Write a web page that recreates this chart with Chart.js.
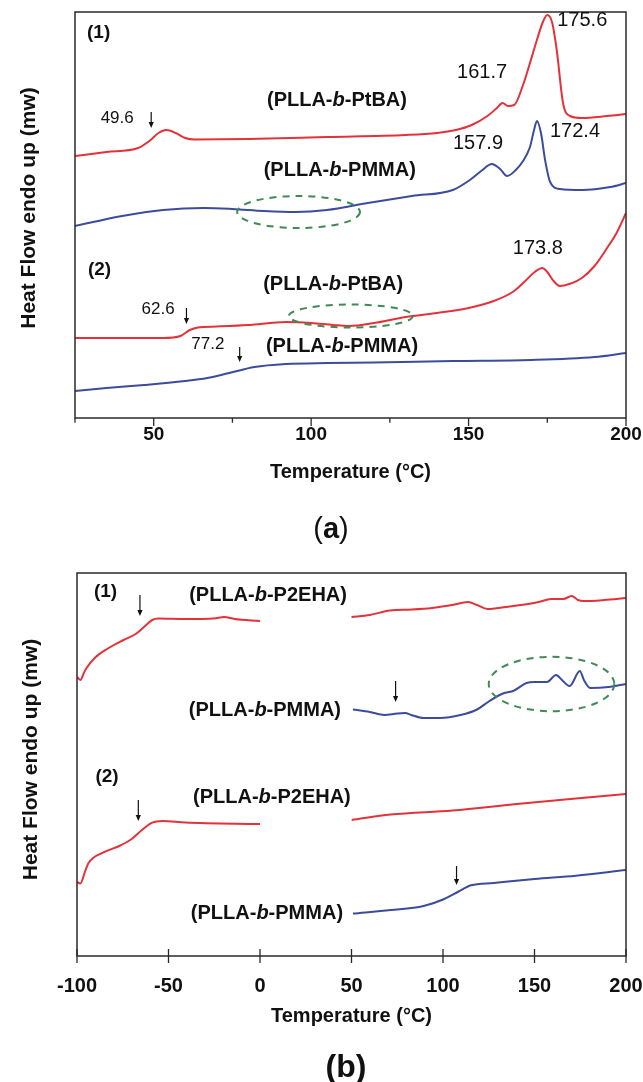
<!DOCTYPE html>
<html>
<head>
<meta charset="utf-8">
<script src="https://cdn.jsdelivr.net/npm/chart.js@4/dist/chart.umd.min.js"></script>
<style>
  body { margin: 0; background: #fff; width: 643px; height: 1082px; position: relative; overflow: hidden; }
  canvas { position: absolute; left: 0; }
  #chartA { top: 0; }
  #chartB { top: 540px; }
  .cap { position: absolute; font-family: "Liberation Sans", Arial, sans-serif; color: #111; transform: translate(-50%, -50%); white-space: nowrap; }
</style>
</head>
<body>
<canvas id="chartA" width="643" height="540"></canvas>
<canvas id="chartB" width="643" height="542"></canvas>
<div class="cap" style="left:331px; top:528px; font-size:29px;">(<b>a</b>)</div>
<div class="cap" style="left:346px; top:1066px; font-size:32px; font-weight:bold;">(b)</div>
<script>
// ---- panel (a) data: temperature (°C) and heat flow (arbitrary, endo up) ----
const tempRedA1 = [25, 35, 45, 49, 51.5, 54, 57, 60, 63, 80, 105, 130, 140, 146, 151, 156, 159, 160.8, 162.5, 164.5, 167.3, 169.5, 171.7, 173.6, 175, 176.5, 178, 180, 182.2, 186, 194, 200];
const heatRedA1 = [262, 266, 270, 278, 285, 288, 285, 280, 278.5, 279, 281, 283, 285, 288, 293, 302, 310, 315, 312, 313, 333, 355, 378, 396, 403, 396, 368, 315, 302, 300, 302, 304];

const tempBlueA1 = [25, 40, 53, 66, 75, 85, 95, 105, 118, 132, 145, 150.4, 154, 157.4, 160, 162.2, 165, 167.3, 169.5, 170.8, 171.7, 173, 174.3, 175.9, 179, 186, 195, 200];
const heatBlueA1 = [192, 202, 208, 210, 209, 207, 206, 208, 215, 222, 228, 238, 247, 254, 249, 242, 248, 257, 271, 288, 297, 285, 258, 236, 229, 228, 231, 235];

const tempRedA2 = [25, 40, 53, 58.5, 61.5, 64, 70, 80, 92, 100, 107, 112, 120, 130, 140, 150, 158, 164, 168, 171, 173.4, 175, 177, 179, 182, 186, 190, 194, 197, 200];
const heatRedA2 = [80, 80, 80, 82, 88, 90.5, 91.5, 93, 96, 95, 93, 92, 95, 101, 105, 110, 117, 126, 137, 146, 150, 146, 137, 132, 134, 140, 152, 170, 185, 205];

const tempBlueA2 = [25, 35, 47, 60, 67, 74, 82, 92, 105, 120, 145, 170, 190, 200];
const heatBlueA2 = [27, 30, 33, 37, 40, 45, 51, 54, 55, 55.5, 57, 58, 61, 65];

// ---- panel (b) data ----
const tempRedB1Low = [-100, -98.2, -96, -94.8, -90.3, -83.6, -74.6, -67.9, -63.4, -58.9, -55.5, -40.9, -25.2, -19.6, -13.9, 0];
const heatRedB1Low = [279, 276, 284, 288, 298, 307, 316, 322, 329, 336, 337.5, 337, 337.5, 339, 337, 335];
const tempRedB1High = [50, 60, 71, 83, 94, 105, 113.7, 118.6, 124.3, 134.4, 145.6, 152.3, 159, 165.8, 170.3, 173.7, 177, 188, 200];
const heatRedB1High = [339, 341, 345.5, 346.5, 348, 351, 354, 351, 347, 349, 351.7, 354, 357, 357, 360, 356, 355, 356, 358];

const tempBlueB1 = [50.8, 60, 68, 75, 79.3, 82.7, 89.4, 98.4, 109.6, 118.6, 125.4, 132.1, 138.9, 145.6, 150.1, 156.8, 161.8, 165, 169.2, 174.8, 177, 180.4, 190.5, 200];
const heatBlueB1 = [246.5, 244, 241, 242.5, 243, 241, 238, 238, 241, 246.5, 255, 262, 265.5, 273, 274, 274, 281, 276, 270, 285, 276, 268, 269, 272];

const tempRedB2Low = [-100, -98.2, -95.5, -93.7, -85.8, -76.9, -70.1, -64.5, -58.9, -53.3, -40.9, 0];
const heatRedB2Low = [74, 72.4, 85, 93, 103.4, 110, 117, 126, 133.4, 135, 133.4, 132];
const tempRedB2High = [50.1, 71.4, 105.2, 138.9, 172.6, 200];
const heatRedB2High = [136, 141.4, 145.5, 151.7, 157.6, 162];

const tempBlueB2 = [50.8, 71.4, 89.4, 100.7, 108.5, 115.3, 127.6, 150.1, 172.6, 200];
const heatBlueB2 = [42.4, 45.9, 50, 57, 64.5, 70.7, 73, 77, 80.3, 86];

// ---- axis ticks ----
const majorTicksA = [50, 100, 150, 200];
const minorTicksA = [25, 75, 125, 175];
const majorTicksB = [-100, -50, 0, 50, 100, 150, 200];

const FONT = '"Liberation Sans", Arial, sans-serif';
const RED = '#e3323a';
const BLUE = '#3b4c9c';
const GREEN = '#3f8a55';

function series(xs, ys, color) {
  return {
    data: xs.map((x, i) => ({ x, y: ys[i] })),
    borderColor: color,
    borderWidth: 2,
    pointRadius: 0,
    fill: false,
    cubicInterpolationMode: 'monotone'
  };
}

// draw text where part of it is italic (the "b" in block copolymer names)
function richText(ctx, parts, cx, cy, size) {
  const fontFor = p => `${p.i ? 'italic ' : ''}bold ${size}px ${FONT}`;
  let w = 0;
  parts.forEach(p => { ctx.font = fontFor(p); w += ctx.measureText(p.t).width; });
  let x = cx - w / 2;
  ctx.textAlign = 'left';
  ctx.textBaseline = 'middle';
  parts.forEach(p => { ctx.font = fontFor(p); ctx.fillText(p.t, x, cy); x += ctx.measureText(p.t).width; });
}

function polymer(tail) {
  return [{ t: '(PLLA-' }, { t: 'b', i: true }, { t: '-' + tail + ')' }];
}

const frame = {
  id: 'frame',
  afterDraw(chart, args, o) {
    const { ctx, chartArea: a, scales: { x, y } } = chart;
    ctx.save();
    // box
    ctx.strokeStyle = '#2a2a2a';
    ctx.lineWidth = 1.5;
    ctx.strokeRect(a.left, a.top, a.right - a.left, a.bottom - a.top);
    // tick marks
    ctx.lineWidth = 1.3;
    const tick = (v, inner, outer) => {
      const px = x.getPixelForValue(v);
      ctx.beginPath();
      ctx.moveTo(px, a.bottom - inner);
      ctx.lineTo(px, a.bottom + outer);
      ctx.stroke();
    };
    o.major.forEach(v => tick(v, o.inner, o.outer));
    (o.minor || []).forEach(v => tick(v, 0, o.outer * 0.6));
    // dashed ellipses
    ctx.strokeStyle = GREEN;
    ctx.lineWidth = 2;
    ctx.setLineDash([7, 6]);
    o.ellipses.forEach(e => {
      const cx = x.getPixelForValue(e.x), cy = y.getPixelForValue(e.y);
      const rx = x.getPixelForValue(e.x + e.rx) - cx;
      const ry = cy - y.getPixelForValue(e.y + e.ry);
      ctx.beginPath();
      ctx.ellipse(cx, cy, rx, ry, 0, 0, Math.PI * 2);
      ctx.stroke();
    });
    ctx.setLineDash([]);
    // arrows
    ctx.strokeStyle = '#111';
    ctx.fillStyle = '#111';
    ctx.lineWidth = 1.2;
    o.arrows.forEach(ar => {
      const px = x.getPixelForValue(ar.x);
      const y1 = y.getPixelForValue(ar.from), y2 = y.getPixelForValue(ar.to);
      ctx.beginPath();
      ctx.moveTo(px, y1);
      ctx.lineTo(px, y2 - 5);
      ctx.stroke();
      ctx.beginPath();
      ctx.moveTo(px - 2.6, y2 - 6);
      ctx.lineTo(px + 2.6, y2 - 6);
      ctx.lineTo(px, y2);
      ctx.closePath();
      ctx.fill();
    });
    // labels
    ctx.fillStyle = '#111';
    o.labels.forEach(l => {
      const px = x.getPixelForValue(l.x), py = y.getPixelForValue(l.y);
      if (l.parts) {
        richText(ctx, l.parts, px, py, l.size);
      } else {
        ctx.font = `${l.bold ? 'bold ' : ''}${l.size}px ${FONT}`;
        ctx.textAlign = 'center';
        ctx.textBaseline = 'middle';
        ctx.fillText(l.t, px, py);
      }
    });
    // y axis title
    ctx.save();
    ctx.translate(o.yTitleX, (a.top + a.bottom) / 2 + o.yTitleShift);
    ctx.rotate(-Math.PI / 2);
    ctx.font = `bold 21px ${FONT}`;
    ctx.textAlign = 'center';
    ctx.textBaseline = 'middle';
    ctx.fillText('Heat Flow endo up (mw)', 0, 0);
    ctx.restore();
    ctx.restore();
  }
};

// x axis: labels hang at `pad` below the frame, title sits at the bottom of an axis box of fixed height
function xAxis(min, max, ticks, tickSize, pad, axisHeight) {
  return {
    type: 'linear', min, max,
    grid: { display: false, drawTicks: false },
    border: { display: false },
    afterBuildTicks: s => { s.ticks = ticks.map(v => ({ value: v })); },
    afterFit: s => { s.height = axisHeight; s.paddingLeft = 0; s.paddingRight = 0; },
    ticks: { padding: pad, color: '#111', font: { family: FONT, size: tickSize, weight: 'bold' } },
    title: { display: true, text: 'Temperature (°C)', color: '#111', font: { family: FONT, size: 20, weight: 'bold' }, padding: { top: 4, bottom: 0 } }
  };
}

new Chart(document.getElementById('chartA'), {
  type: 'line',
  data: {
    datasets: [
      series(tempRedA1, heatRedA1, RED),
      series(tempBlueA1, heatBlueA1, BLUE),
      series(tempRedA2, heatRedA2, RED),
      series(tempBlueA2, heatBlueA2, BLUE)
    ]
  },
  options: {
    responsive: false,
    animation: false,
    layout: { padding: { left: 75, right: 17, top: 12, bottom: 56 } },
    plugins: {
      legend: { display: false },
      tooltip: { enabled: false },
      frame: {
        major: majorTicksA, minor: minorTicksA, inner: 0, outer: 8,
        yTitleX: 29, yTitleShift: -7,
        ellipses: [
          { x: 96, y: 206, rx: 19.5, ry: 16 },
          { x: 112.6, y: 102, rx: 19.7, ry: 11.5 }
        ],
        arrows: [
          { x: 49.2, from: 306, to: 290 },
          { x: 60.4, from: 110, to: 94 },
          { x: 77.3, from: 71, to: 56 }
        ],
        labels: [
          { t: '(1)', bold: true, size: 19, x: 32.5, y: 385 },
          { t: '49.6', size: 17, x: 38.4, y: 300 },
          { parts: polymer('PtBA'), size: 20, x: 108.2, y: 318 },
          { t: '161.7', size: 20, x: 154.3, y: 346 },
          { t: '175.6', size: 20, x: 186.1, y: 398 },
          { t: '157.9', size: 20, x: 153.0, y: 275 },
          { t: '172.4', size: 20, x: 183.8, y: 287 },
          { parts: polymer('PMMA'), size: 20, x: 109.1, y: 248 },
          { t: '(2)', bold: true, size: 19, x: 32.8, y: 148 },
          { t: '173.8', size: 20, x: 172.0, y: 170 },
          { parts: polymer('PtBA'), size: 20, x: 107, y: 134 },
          { t: '62.6', size: 17, x: 51.4, y: 109 },
          { t: '77.2', size: 17, x: 67.2, y: 74 },
          { parts: polymer('PMMA'), size: 20, x: 109.8, y: 72 }
        ]
      }
    },
    scales: {
      x: xAxis(25, 200, majorTicksA, 19, 5, 66),
      y: { display: false, min: 0, max: 406 }
    }
  },
  plugins: [frame]
});

new Chart(document.getElementById('chartB'), {
  type: 'line',
  data: {
    datasets: [
      series(tempRedB1Low, heatRedB1Low, RED),
      series(tempRedB1High, heatRedB1High, RED),
      series(tempBlueB1, heatBlueB1, BLUE),
      series(tempRedB2Low, heatRedB2Low, RED),
      series(tempRedB2High, heatRedB2High, RED),
      series(tempBlueB2, heatBlueB2, BLUE)
    ]
  },
  options: {
    responsive: false,
    animation: false,
    layout: { padding: { left: 77, right: 17, top: 33, bottom: 54 } },
    plugins: {
      legend: { display: false },
      tooltip: { enabled: false },
      frame: {
        major: majorTicksB, inner: 7, outer: 7,
        yTitleX: 31, yTitleShift: -5,
        ellipses: [
          { x: 159.3, y: 272, rx: 34.3, ry: 27.2 }
        ],
        arrows: [
          { x: -65.6, from: 361, to: 340 },
          { x: 74.1, from: 275, to: 254 },
          { x: -66.5, from: 156, to: 135 },
          { x: 107.4, from: 90, to: 71 }
        ],
        labels: [
          { t: '(1)', bold: true, size: 19, x: -84.4, y: 364 },
          { parts: polymer('P2EHA'), size: 20, x: 4.4, y: 361 },
          { parts: polymer('PMMA'), size: 20, x: 2.7, y: 246 },
          { t: '(2)', bold: true, size: 19, x: -83.6, y: 179 },
          { parts: polymer('P2EHA'), size: 20, x: 6.5, y: 159 },
          { parts: polymer('PMMA'), size: 20, x: 3.8, y: 43 }
        ]
      }
    },
    scales: {
      x: xAxis(-100, 200, majorTicksB, 20, 18, 72),
      y: { display: false, min: 0, max: 383 }
    }
  },
  plugins: [frame]
});
</script>
</body>
</html>
